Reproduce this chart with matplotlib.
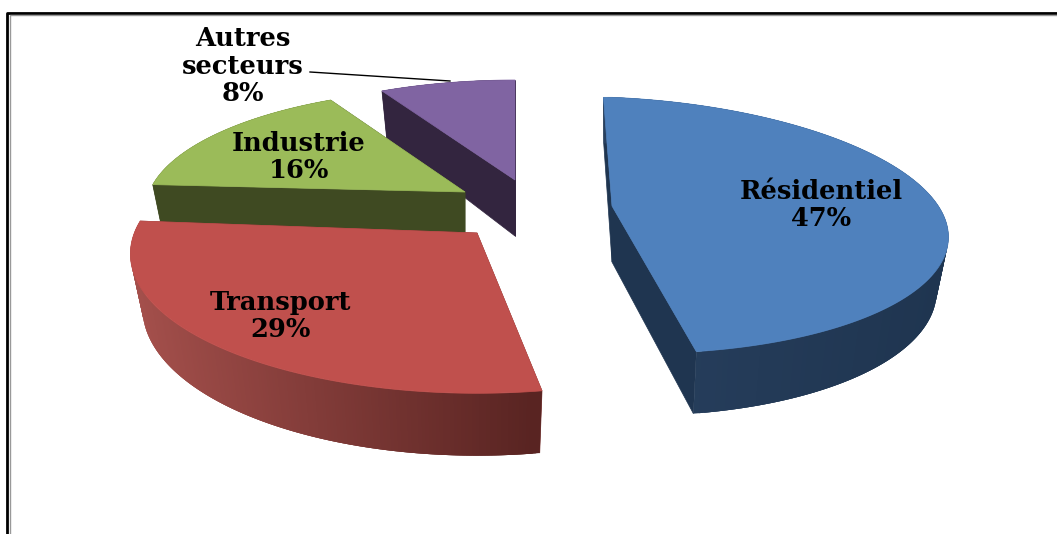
import numpy as np
import matplotlib
matplotlib.use('Agg')
import matplotlib.pyplot as plt
from matplotlib.patches import Polygon
from matplotlib.colors import to_rgb

# Data
sectors = ['Résidentiel', 'Transport', 'Industrie', 'Autres\nsecteurs']
shares = [47, 29, 16, 8]

top_colors = ['#4f81bd', '#c0504d', '#9bbb59', '#8064a2']
cut_colors = ['#1f3550', '#7a3331', '#3f4a22', '#33253f']
wall_left = ['#28405f', '#a5504c', '#3f4a22', '#33253f']
wall_right = ['#1f3550', '#592422', '#3f4a22', '#33253f']

# pixel position of each exploded slice's tip, and its size
tips = [(612, 206), (477, 233), (465, 192), (515, 180)]
scale_x = [0.99, 1.02, 0.94, 0.93]
scale_y = [1.0, 1.09, 0.95, 0.92]
shear = [12, 0, 0, 0]           # right side of the blue slice droops
turn = [0.3, 3.5, 2, 2]         # small rotation of each slice, degrees
label_pos = [(821, 205), (281, 316), (299, 157), (243, 66)]

RX, RY = 336, 125   # pie radii
PERSP = 0.15        # near side of the pie looks bigger
DEPTH = 53
SHRINK = 0.965      # bottom rim is a bit narrower than the top one
START = -2


def rim(theta, i):
    t = np.radians(theta)
    u, v = np.sin(t), -np.cos(t)
    s = 1 / (1 - PERSP * v)
    x = tips[i][0] + scale_x[i] * RX * u * s
    y = tips[i][1] + scale_y[i] * RY * v * s + shear[i] * np.clip(u, 0, 1)
    return x, y, DEPTH * s


fig = plt.figure(figsize=(10.57, 5.34), dpi=100)
ax = fig.add_axes([0, 0, 1, 1])
ax.set_xlim(0, 1057)
ax.set_ylim(534, 0)
ax.axis('off')

# frame of the original picture
ax.plot([7, 7, 1057], [534, 12.5, 12.5], color='black', lw=2, solid_capstyle='butt')
ax.plot([9.5, 9.5, 1057], [534, 15, 15], color='#999999', lw=1, solid_capstyle='butt')

edges = np.cumsum([0] + shares) * 3.6 + START
spans = list(zip(edges[:-1], edges[1:]))

# back slices first so the front ones cover them
for i in [3, 2, 1, 0]:
    th = np.linspace(spans[i][0], spans[i][1], 200) + turn[i]
    x, y, d = rim(th, i)
    tx, ty = tips[i]
    xb = tx + (x - tx) * SHRINK   # bottom rim
    yb = y + d

    # flat cut faces
    for j in [0, -1]:
        ax.add_patch(Polygon([(tx, ty), (x[j], y[j]), (xb[j], yb[j]), (tx, ty + 56)],
                             fc=cut_colors[i], ec=cut_colors[i], lw=0.5, zorder=i * -3 + 10))

    # outer wall, shaded from left to right
    c0, c1 = np.array(to_rgb(wall_left[i])), np.array(to_rgb(wall_right[i]))
    order = np.argsort(x)
    for n in order:
        if n >= len(th) - 3:
            continue
        f = (x[n] - x.min()) / (x.max() - x.min())
        col = c0 + (c1 - c0) * f
        # quads overlap a little so no seams show between them
        ax.add_patch(Polygon([(x[n], y[n]), (x[n + 3], y[n + 3]),
                              (xb[n + 3], yb[n + 3]), (xb[n], yb[n])],
                             fc=col, ec='none', zorder=i * -3 + 11))

    # top face
    ax.add_patch(Polygon(np.column_stack([np.r_[tx, x], np.r_[ty, y]]),
                         fc=top_colors[i], ec=top_colors[i], lw=0.5, zorder=i * -3 + 12))

# labels
for name, pct, pos in zip(sectors, shares, label_pos):
    ax.text(pos[0], pos[1], f'{name}\n{pct}%', ha='center', va='center', fontsize=18.5,
            fontweight='bold', family='DejaVu Serif', color='black', linespacing=1.12, zorder=30)

# leader line for the small slice
ax.plot([310, 450], [72, 81], color='black', lw=1, zorder=29)

fig.savefig('out.png', dpi=100, facecolor='white')
